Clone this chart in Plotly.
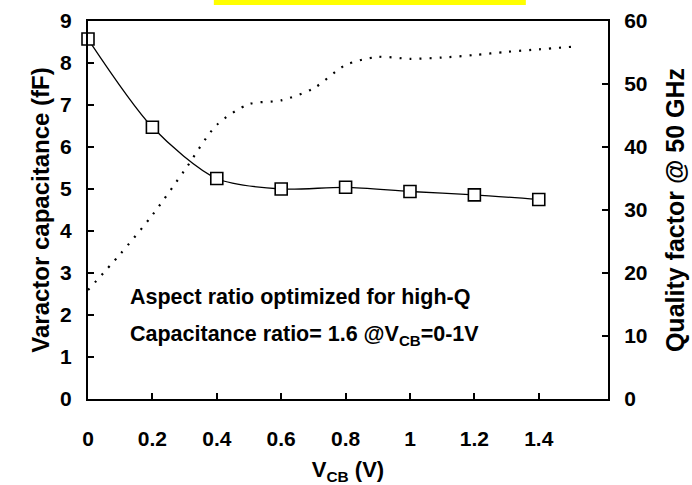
import plotly.graph_objects as go

# Data
vcb_cap = [0, 0.2, 0.4, 0.6, 0.8, 1.0, 1.2, 1.4]
capacitance_fF = [8.57, 6.47, 5.25, 5.0, 5.04, 4.94, 4.86, 4.75]

vcb_q = [0, 0.1, 0.2, 0.3, 0.4, 0.5, 0.6, 0.7, 0.8, 0.9, 1.0, 1.1, 1.2, 1.3, 1.4, 1.5]
quality_factor = [17.3, 23.0, 29.2, 36.3, 43.5, 46.8, 47.4, 49.3, 53.0, 54.3, 54.0, 54.2, 54.6, 55.1, 55.5, 55.9]

x_ticks = [0, 0.2, 0.4, 0.6, 0.8, 1.0, 1.2, 1.4]
x_ticktext = ["0", "0.2", "0.4", "0.6", "0.8", "1", "1.2", "1.4"]

FONT = "Liberation Sans, Arial, sans-serif"

fig = go.Figure()
fig.add_trace(go.Scatter(
    x=vcb_q, y=quality_factor, yaxis="y2", mode="lines",
    line=dict(color="black", width=2.2, dash="2px,8px", shape="spline", smoothing=0.8),
    showlegend=False,
))
fig.add_trace(go.Scatter(
    x=vcb_cap, y=capacitance_fF, mode="lines+markers",
    line=dict(color="black", width=1.3, shape="spline", smoothing=0.8),
    marker=dict(symbol="square", size=12, color="white", line=dict(color="black", width=1.6)),
    cliponaxis=False,
    showlegend=False,
))

tickfont = dict(family=FONT, size=21, color="black", weight="bold")
annfont = dict(family=FONT, size=21.5, color="black", weight="bold")

fig.update_layout(
    width=692, height=485,
    margin=dict(l=88, r=84, t=21, b=86),
    paper_bgcolor="white", plot_bgcolor="white",
    xaxis=dict(
        range=[0, 1.615], tickvals=x_ticks, ticktext=x_ticktext,
        showline=True, linecolor="black", linewidth=2, mirror=True,
        ticks="inside", ticklen=6, tickwidth=1.5, tickcolor="black",
        ticklabelstandoff=20, automargin=False,
        showgrid=False, zeroline=False, tickfont=tickfont,
        title=dict(text="V<sub>CB</sub> (V)", font=dict(family=FONT, size=22, color="black", weight="bold"), standoff=14),
    ),
    yaxis=dict(
        range=[0, 9], dtick=1, showline=True, linecolor="black", linewidth=2,
        ticks="inside", ticklen=6, tickwidth=1.5, tickcolor="black",
        ticklabelstandoff=10, automargin=False,
        showgrid=False, zeroline=False, tickfont=tickfont,
        title=dict(text="Varactor capacitance (fF)", font=dict(family=FONT, size=24, color="black", weight="bold"), standoff=4),
    ),
    yaxis2=dict(
        range=[0, 60], dtick=10, overlaying="y", side="right",
        showline=True, linecolor="black", linewidth=2,
        ticks="inside", ticklen=6, tickwidth=1.5, tickcolor="black",
        ticklabelstandoff=10, automargin=False,
        showgrid=False, zeroline=False, tickfont=tickfont,
        title=dict(text="Quality factor @ 50 GHz", font=dict(family=FONT, size=25, color="black", weight="bold"), standoff=20),
    ),
    shapes=[dict(type="rect", xref="paper", yref="paper", x0=0.242, x1=0.842,
                 y0=1.0423, y1=1.07, fillcolor="#ffff00", line=dict(width=0), layer="above")],
    annotations=[
        dict(text="Aspect ratio optimized for high-Q", xref="paper", yref="paper",
             x=(128 - 88) / 520, y=(399 - 297) / 378, xanchor="left", yanchor="middle",
             showarrow=False, font=annfont),
        dict(text="Capacitance ratio= 1.6 @V<sub>CB</sub>=0-1V", xref="paper", yref="paper",
             x=(128 - 88) / 520, y=(399 - 335) / 378, xanchor="left", yanchor="middle",
             showarrow=False, font=annfont),
    ],
)

fig.write_html("out.html")
